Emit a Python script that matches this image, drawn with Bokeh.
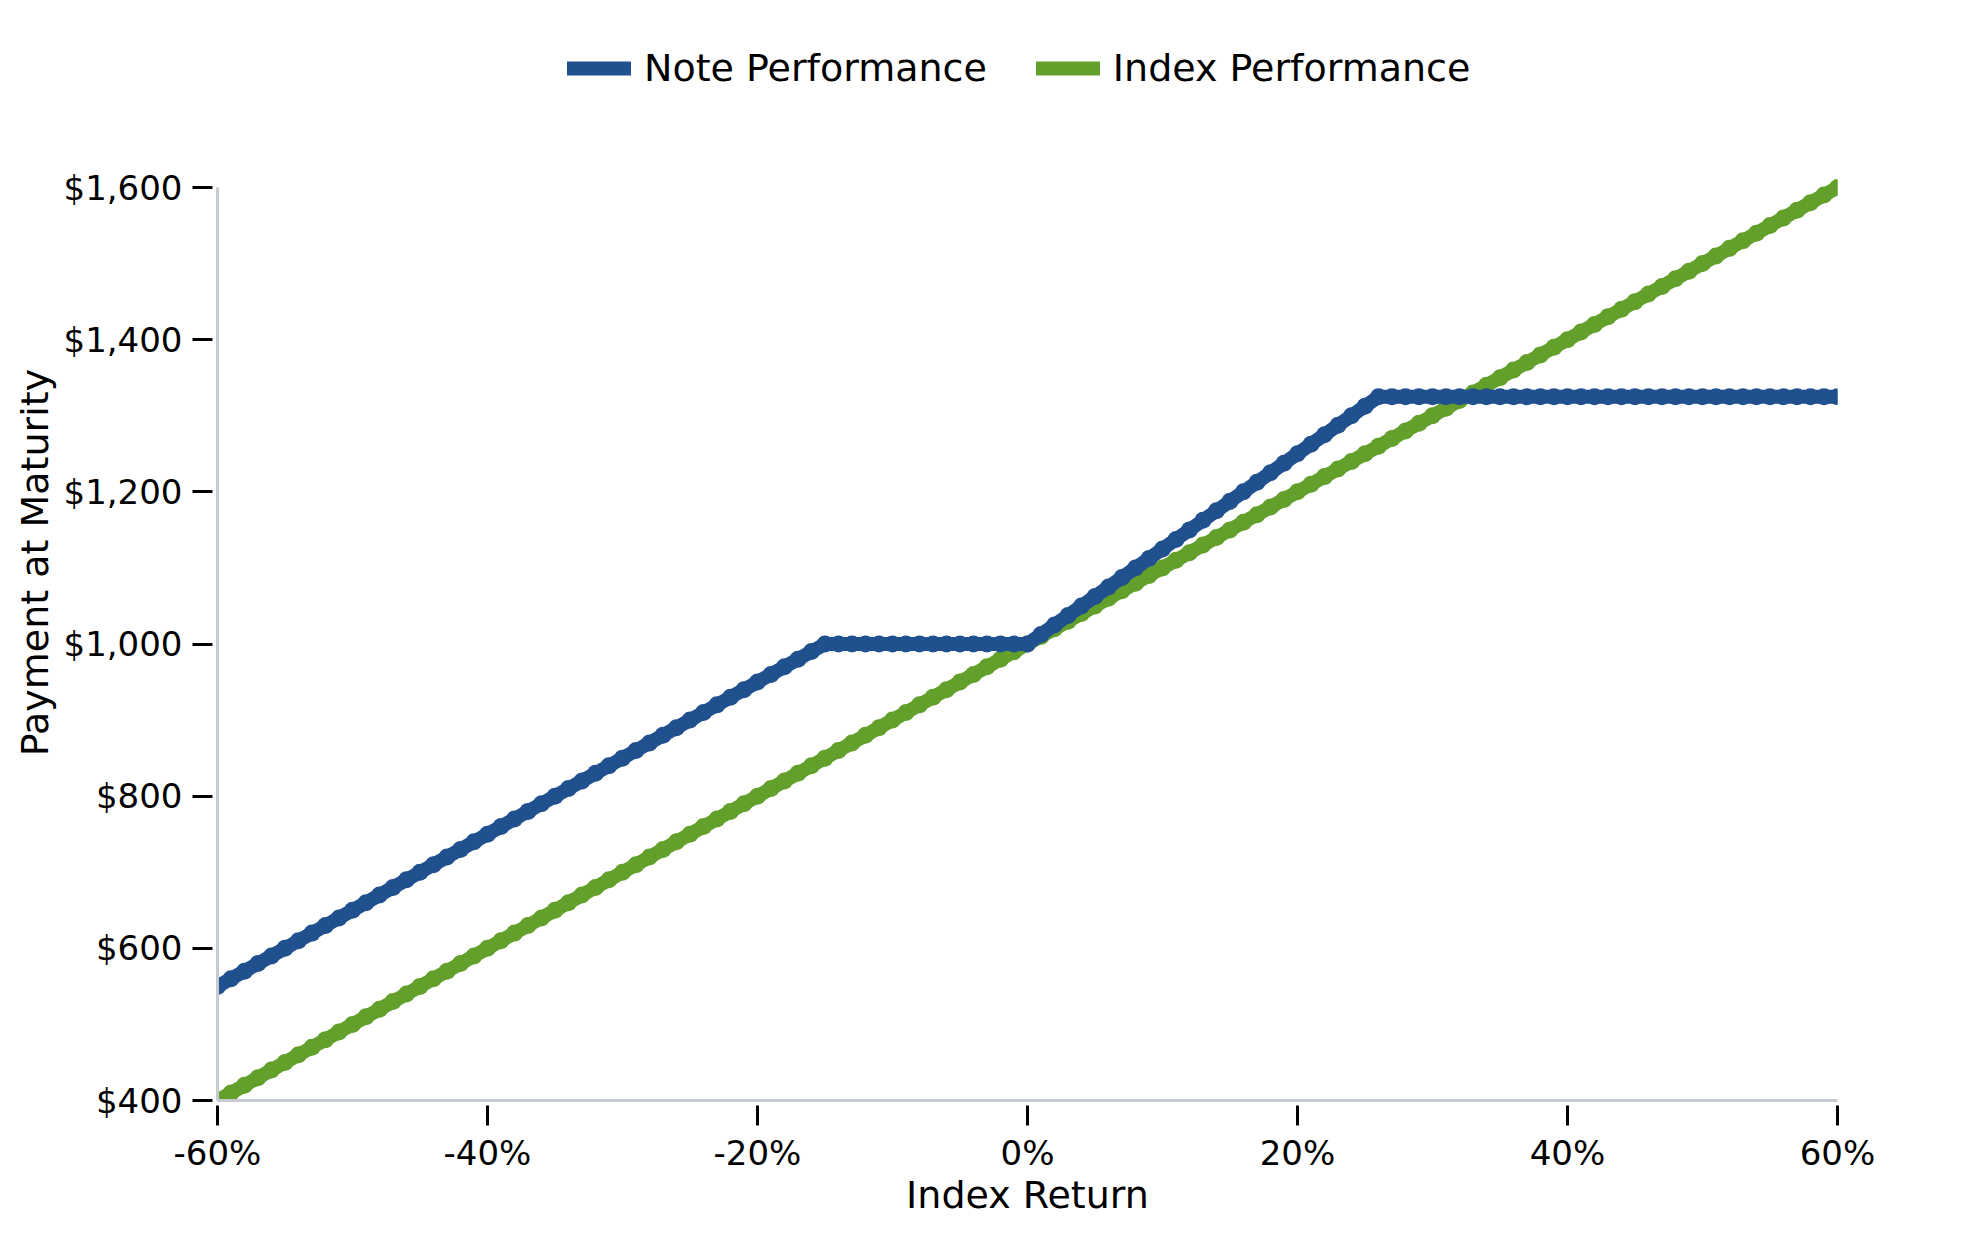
from bokeh.plotting import figure
from bokeh.models import Legend, LegendItem, FixedTicker, NumeralTickFormatter, PrintfTickFormatter, Range1d
from bokeh.embed import file_html
from bokeh.resources import INLINE

# Index return (%) in 1% steps
index_return = [
    -60, -59, -58, -57, -56, -55, -54, -53, -52, -51,
    -50, -49, -48, -47, -46, -45, -44, -43, -42, -41,
    -40, -39, -38, -37, -36, -35, -34, -33, -32, -31,
    -30, -29, -28, -27, -26, -25, -24, -23, -22, -21,
    -20, -19, -18, -17, -16, -15, -14, -13, -12, -11,
    -10, -9, -8, -7, -6, -5, -4, -3, -2, -1,
    0, 1, 2, 3, 4, 5, 6, 7, 8, 9,
    10, 11, 12, 13, 14, 15, 16, 17, 18, 19,
    20, 21, 22, 23, 24, 25, 26, 27, 28, 29,
    30, 31, 32, 33, 34, 35, 36, 37, 38, 39,
    40, 41, 42, 43, 44, 45, 46, 47, 48, 49,
    50, 51, 52, 53, 54, 55, 56, 57, 58, 59,
    60,
]

# Note payment at maturity ($)
note_payment = [
    550, 560, 570, 580, 590, 600, 610, 620, 630, 640,
    650, 660, 670, 680, 690, 700, 710, 720, 730, 740,
    750, 760, 770, 780, 790, 800, 810, 820, 830, 840,
    850, 860, 870, 880, 890, 900, 910, 920, 930, 940,
    950, 960, 970, 980, 990, 1000, 1000, 1000, 1000, 1000,
    1000, 1000, 1000, 1000, 1000, 1000, 1000, 1000, 1000, 1000,
    1000, 1012.5, 1025, 1037.5, 1050, 1062.5, 1075, 1087.5, 1100, 1112.5,
    1125, 1137.5, 1150, 1162.5, 1175, 1187.5, 1200, 1212.5, 1225, 1237.5,
    1250, 1262.5, 1275, 1287.5, 1300, 1312.5, 1325, 1325, 1325, 1325,
    1325, 1325, 1325, 1325, 1325, 1325, 1325, 1325, 1325, 1325,
    1325, 1325, 1325, 1325, 1325, 1325, 1325, 1325, 1325, 1325,
    1325, 1325, 1325, 1325, 1325, 1325, 1325, 1325, 1325, 1325,
    1325,
]

# Index payment at maturity ($)
index_payment = [
    400, 410, 420, 430, 440, 450, 460, 470, 480, 490,
    500, 510, 520, 530, 540, 550, 560, 570, 580, 590,
    600, 610, 620, 630, 640, 650, 660, 670, 680, 690,
    700, 710, 720, 730, 740, 750, 760, 770, 780, 790,
    800, 810, 820, 830, 840, 850, 860, 870, 880, 890,
    900, 910, 920, 930, 940, 950, 960, 970, 980, 990,
    1000, 1010, 1020, 1030, 1040, 1050, 1060, 1070, 1080, 1090,
    1100, 1110, 1120, 1130, 1140, 1150, 1160, 1170, 1180, 1190,
    1200, 1210, 1220, 1230, 1240, 1250, 1260, 1270, 1280, 1290,
    1300, 1310, 1320, 1330, 1340, 1350, 1360, 1370, 1380, 1390,
    1400, 1410, 1420, 1430, 1440, 1450, 1460, 1470, 1480, 1490,
    1500, 1510, 1520, 1530, 1540, 1550, 1560, 1570, 1580, 1590,
    1600,
]

x_ticks = [-60, -40, -20, 0, 20, 40, 60]
y_ticks = [400, 600, 800, 1000, 1200, 1400, 1600]
y_min, y_max = 400, 1600

BLUE = "#21508f"
GREEN = "#62a02b"
FONT = "DejaVu Sans"

# layout (pixels)
W, H = 1963, 1234
border_left, border_right = 217, 126
border_bottom = 134
plot_top_px = 187          # where $1,600 sits
frame_top_px = 24          # frame extended upward to host the legend
frame_h = H - frame_top_px - border_bottom
axis_h = (H - border_bottom) - plot_top_px
y_top = y_min + (y_max - y_min) * frame_h / axis_h

p = figure(width=W, height=H, output_backend="svg", toolbar_location=None,
           x_range=Range1d(-60, 60), y_range=Range1d(y_min, y_top))
p.min_border_left = border_left
p.min_border_right = border_right
p.min_border_top = frame_top_px
p.min_border_bottom = border_bottom
p.outline_line_color = None
p.xgrid.visible = False
p.ygrid.visible = False
p.background_fill_color = "white"
p.border_fill_color = "white"

g_line = p.line(index_return, index_payment, line_color=GREEN, line_width=14, line_cap="round", line_join="round")
p.scatter(index_return, index_payment, size=17, fill_color=GREEN, line_color=None)
b_line = p.line(index_return, note_payment, line_color=BLUE, line_width=14, line_cap="round", line_join="round")
p.scatter(index_return, note_payment, size=17, fill_color=BLUE, line_color=None)

for ax in (p.xaxis[0], p.yaxis[0]):
    ax.axis_line_color = "#c6cbd1"
    ax.axis_line_width = 3
    ax.major_tick_line_color = "black"
    ax.major_tick_line_width = 3
    ax.major_tick_out = 25
    ax.major_tick_in = -5
    ax.minor_tick_line_color = None
    ax.major_label_text_font = FONT
    ax.major_label_text_font_size = "34px"
    ax.major_label_text_color = "black"
    ax.axis_label_text_font = FONT
    ax.axis_label_text_font_size = "38px"
    ax.axis_label_text_font_style = "normal"
    ax.axis_label_text_color = "black"

p.yaxis.major_label_standoff = 10
p.xaxis.major_label_standoff = 7
p.yaxis.bounds = (y_min, y_max)
p.xaxis.ticker = FixedTicker(ticks=x_ticks)
p.yaxis.ticker = FixedTicker(ticks=y_ticks)
p.xaxis.formatter = PrintfTickFormatter(format="%d%%")
p.yaxis.formatter = NumeralTickFormatter(format="$0,0")
p.xaxis.axis_label = "Index Return"
p.yaxis.axis_label = "Payment at Maturity"
p.xaxis.axis_label_standoff = -3
p.yaxis.axis_label_standoff = 4

legend = Legend(items=[LegendItem(label="Note Performance", renderers=[b_line]),
                       LegendItem(label="Index Performance", renderers=[g_line])],
                orientation="horizontal", location=(350, H - border_bottom - 68 - 22))
legend.label_text_font = FONT
legend.label_text_font_size = "38px"
legend.label_text_color = "black"
legend.glyph_width = 64
legend.glyph_height = 38
legend.label_height = 38
legend.label_standoff = 13
legend.spacing = 49
legend.padding = 0
legend.margin = 0
legend.border_line_color = None
legend.background_fill_alpha = 0
p.add_layout(legend, "center")

open("out.html", "w").write(file_html(p, INLINE))
